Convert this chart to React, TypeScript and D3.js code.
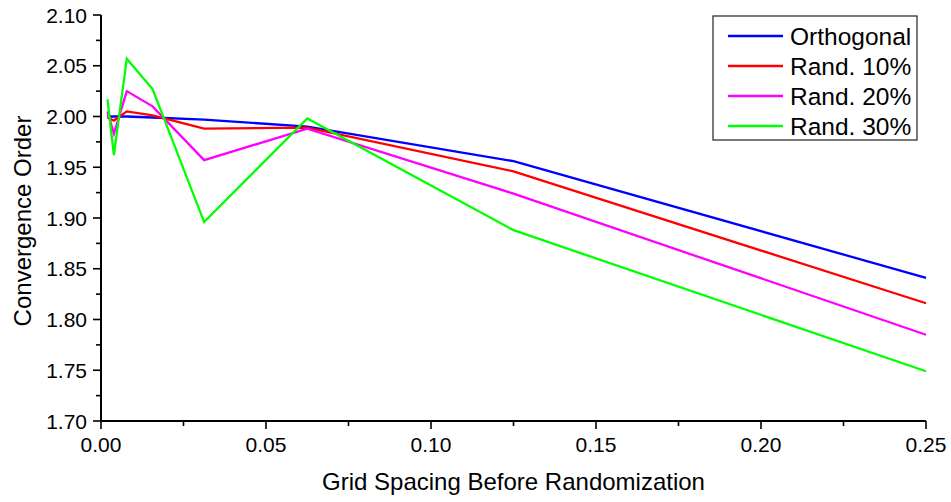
import React from "react";
import * as d3 from "d3";

const xValues = [1 / 512, 1 / 256, 1 / 128, 1 / 64, 1 / 32, 1 / 16, 1 / 8, 1 / 4];
const seriesNames = ["Orthogonal", "Rand. 10%", "Rand. 20%", "Rand. 30%"];
const orthogonal = [2.0, 2.0, 2.0, 1.999, 1.997, 1.99, 1.956, 1.841];
const rand10 = [1.999, 1.996, 2.005, 2.001, 1.988, 1.989, 1.946, 1.816];
const rand20 = [2.005, 1.983, 2.025, 2.01, 1.957, 1.988, 1.924, 1.785];
const rand30 = [2.017, 1.962, 2.057, 2.027, 1.896, 1.998, 1.888, 1.749];
const seriesColors = ["#0000ff", "#ff0000", "#ff00ff", "#00ff00"];
const xTicks = [0, 0.05, 0.1, 0.15, 0.2, 0.25];
const yTicks = [1.7, 1.75, 1.8, 1.85, 1.9, 1.95, 2.0, 2.05, 2.1];

const W = 951;
const H = 502;
const left = 101;
const right = 926;
const top = 15;
const bottom = 421;
const FONT = "Arial, 'Liberation Sans', Helvetica, sans-serif";

export default function App() {
  const x = d3.scaleLinear().domain([0, 0.25]).range([left, right]);
  const y = d3.scaleLinear().domain([1.7, 2.1]).range([bottom, top]);
  const allSeries = [orthogonal, rand10, rand20, rand30];
  const line = d3
    .line<[number, number]>()
    .x((d) => x(d[0]))
    .y((d) => y(d[1]));

  const xMinor = d3.range(0, 0.25001, 0.025);
  const yMinor = d3.range(1.7, 2.10001, 0.025);

  return (
    <svg
      width={W}
      height={H}
      style={{ position: "absolute", left: 0, top: 0, background: "#fff" }}
      fontFamily={FONT}
    >
      <rect x={0} y={0} width={W} height={H} fill="#fff" />
      {allSeries.map((s, i) => (
        <path
          key={i}
          d={line(s.map((v, j) => [xValues[j], v] as [number, number])) || ""}
          fill="none"
          stroke={seriesColors[i]}
          strokeWidth={2.3}
          strokeLinejoin="miter"
        />
      ))}
      {/* axes */}
      <line x1={left} x2={left} y1={top} y2={bottom} stroke="#000" strokeWidth={2} />
      <line x1={left} x2={right} y1={bottom} y2={bottom} stroke="#000" strokeWidth={2} />
      {xMinor.map((t, i) => (
        <line
          key={"xm" + i}
          x1={x(t)}
          x2={x(t)}
          y1={bottom}
          y2={bottom + (i % 2 === 0 ? 8 : 5)}
          stroke="#000"
          strokeWidth={1.6}
        />
      ))}
      {yMinor.map((t, i) => (
        <line
          key={"ym" + i}
          x1={left - (i % 2 === 0 ? 8 : 5)}
          x2={left}
          y1={y(t)}
          y2={y(t)}
          stroke="#000"
          strokeWidth={1.6}
        />
      ))}
      {xTicks.map((t) => (
        <text key={"xt" + t} x={x(t)} y={452} textAnchor="middle" fontSize={21} fill="#000">
          {t.toFixed(2)}
        </text>
      ))}
      {yTicks.map((t) => (
        <text
          key={"yt" + t}
          x={87}
          y={y(t)}
          textAnchor="end"
          dominantBaseline="central"
          fontSize={21}
          fill="#000"
        >
          {t.toFixed(2)}
        </text>
      ))}
      <text x={(left + right) / 2} y={490} textAnchor="middle" fontSize={24} fill="#000">
        Grid Spacing Before Randomization
      </text>
      <text
        transform={`translate(31, 221) rotate(-90)`}
        textAnchor="middle"
        fontSize={24}
        fill="#000"
      >
        Convergence Order
      </text>
      {/* legend */}
      <rect x={713} y={16} width={204} height={124} fill="#fff" stroke="#333" strokeWidth={1.3} />
      {seriesNames.map((name, i) => (
        <g key={name}>
          <line
            x1={728}
            x2={783}
            y1={36 + i * 30}
            y2={36 + i * 30}
            stroke={seriesColors[i]}
            strokeWidth={2.3}
          />
          <text x={790} y={36 + i * 30} dominantBaseline="central" fontSize={24.5} fill="#000">
            {name}
          </text>
        </g>
      ))}
    </svg>
  );
}
